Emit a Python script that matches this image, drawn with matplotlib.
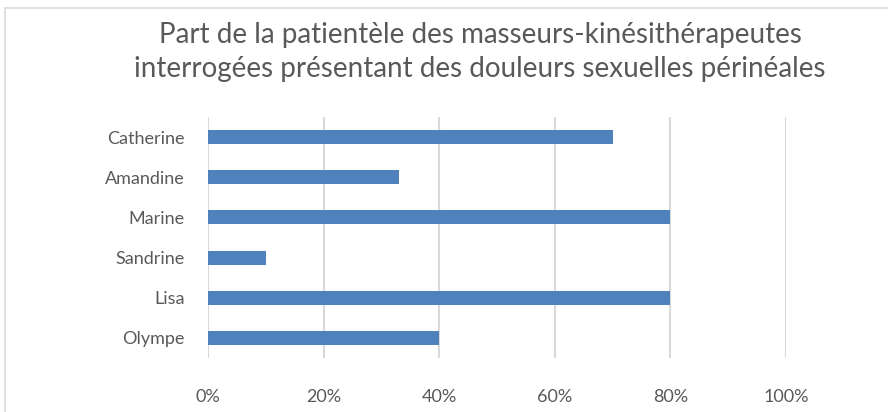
import matplotlib.pyplot as plt
import matplotlib.patches as patches
from matplotlib.ticker import PercentFormatter

title = "Part de la patientèle des masseurs-kinésithérapeutes\ninterrogées présentant des douleurs sexuelles périnéales"
names = ['Catherine', 'Amandine', 'Marine', 'Sandrine', 'Lisa', 'Olympe']
parts = [0.70, 0.33, 0.80, 0.10, 0.80, 0.40]
x_ticks = [0, 0.2, 0.4, 0.6, 0.8, 1.0]

text_col = '#595959'
bar_col = '#4F81BD'
grid_col = '#D9D9D9'

plt.rcParams['font.family'] = ['Lato', 'DejaVu Sans']

fig = plt.figure(figsize=(8.88, 4.12), dpi=100)
# chart border, right and bottom edges fall outside the image
fig.patches.append(patches.Rectangle((5/888, -10/412), 900/888, 414/412, transform=fig.transFigure,
                                     fill=False, edgecolor=grid_col, linewidth=1.2))

ax = fig.add_axes([208/888, 1 - 358/412, 578/888, 241/412])
ypos = list(range(len(names)))[::-1]
ax.barh(ypos, parts, height=0.35, color=bar_col, zorder=3)
ax.set_ylim(-0.5, len(names) - 0.5)
ax.set_xlim(0, 1)
ax.set_yticks(ypos)
ax.set_yticklabels(names)
ax.set_xticks(x_ticks)
ax.xaxis.set_major_formatter(PercentFormatter(1.0, decimals=0))
ax.grid(axis='x', color=grid_col, linewidth=1.5, zorder=0)
for s in ax.spines.values():
    s.set_visible(False)
ax.tick_params(axis='both', length=0, labelsize=13, colors=text_col)
ax.tick_params(axis='y', pad=17)
ax.tick_params(axis='x', pad=22)

fig.text(480/888, 1 - 52/412, title, ha='center', va='center', fontsize=20,
         color=text_col, linespacing=1.35)

fig.savefig('out.png', dpi=100)
